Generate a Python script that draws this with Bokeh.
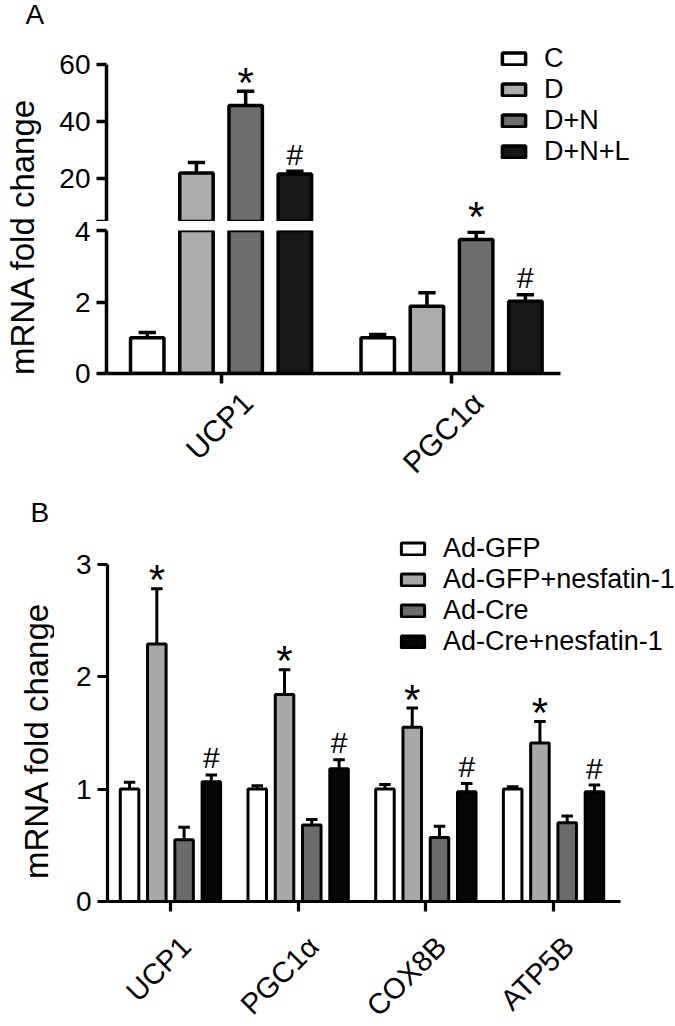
import math
from bokeh.plotting import figure
from bokeh.models import (ColumnDataSource, Range1d, FixedTicker, LinearAxis,
                          Legend, LegendItem, Label, LabelSet)
from bokeh.layouts import row, column
from bokeh.embed import file_html
from bokeh.resources import INLINE
from bokeh.core.properties import value

# ---------------- data: panel A ----------------
A_GENES = ["UCP1", "PGC1α"]
A_GROUPS = ["C", "D", "D+N", "D+N+L"]
A_C = [1.00, 1.00]
A_D = [22.0, 1.88]
A_DN = [45.6, 3.75]
A_DNL = [21.6, 2.02]
A_C_SEM = [0.15, 0.09]
A_D_SEM = [3.7, 0.38]
A_DN_SEM = [5.0, 0.20]
A_DNL_SEM = [1.0, 0.18]
A_SIG = ["", "", "*", "#"]
A_LOW_TICKS = [0, 2, 4]
A_HIGH_TICKS = [5, 20, 40, 60]
A_LOW_MAX = 4      # lower segment of the broken axis: 0..4
A_UP_MIN = 5       # upper segment of the broken axis: 5..60
A_UP_MAX = 60

# ---------------- data: panel B ----------------
B_GENES = ["UCP1", "PGC1α", "COX8B", "ATP5B"]
B_GROUPS = ["Ad-GFP", "Ad-GFP+nesfatin-1", "Ad-Cre", "Ad-Cre+nesfatin-1"]
B_GFP = [1.00, 1.00, 1.00, 1.00]
B_GFP_N = [2.29, 1.84, 1.55, 1.41]
B_CRE = [0.55, 0.68, 0.57, 0.70]
B_CRE_N = [1.065, 1.18, 0.975, 0.975]
B_GFP_SEM = [0.06, 0.03, 0.04, 0.02]
B_GFP_N_SEM = [0.49, 0.22, 0.17, 0.19]
B_CRE_SEM = [0.11, 0.05, 0.10, 0.06]
B_CRE_N_SEM = [0.06, 0.08, 0.075, 0.06]
B_SIG = ["", "*", "", "#"]
B_TICKS = [0, 1, 2, 3]
B_MAX = 3

# ---------------- style ----------------
FONT = "Liberation Sans"
A_FILLS = ["#ffffff", "#acacac", "#6e6e6e", "#171717"]
B_FILLS = ["#ffffff", "#a9a9a9", "#6b6b6b", "#060606"]
PITCH = 0.2135
BAR_W = 0.145
STAR_SIZE, STAR_OFF = "42px", -9
HASH_SIZE, HASH_OFF = "30px", -17
LABELSET_STAR_OFF = 1
TICK_FONT = "28px"
LAB_W = 54
NAN = float("nan")


def base_fig(**kw):
    p = figure(toolbar_location=None, output_backend="svg", **kw)
    p.grid.visible = False
    p.outline_line_color = None
    p.background_fill_color = "white"
    p.border_fill_color = "white"
    return p


def style_axis(ax, lw):
    ax.axis_line_width = lw
    ax.axis_line_color = "black"
    ax.major_tick_line_width = lw
    ax.major_tick_line_color = "black"
    ax.major_tick_out = 10
    ax.major_tick_in = 0
    ax.minor_tick_line_color = None
    ax.major_label_text_font = FONT
    ax.major_label_text_font_size = TICK_FONT
    ax.major_label_text_color = "black"
    ax.major_label_standoff = 6


def style_yaxis(p, ticks, lw, bounds, overrides=None):
    ax = p.yaxis[0]
    ax.ticker = FixedTicker(ticks=ticks)
    ax.bounds = bounds
    style_axis(ax, lw)
    if overrides:
        ax.major_label_overrides = overrides


def style_xaxes(p, genes, shift, standoff, lw, bounds, font, line_height=1.2):
    ax = p.xaxis[0]
    style_axis(ax, lw)
    ax.bounds = bounds
    ticks = [i + 1 for i in range(len(genes))]
    ax.ticker = FixedTicker(ticks=ticks)
    ax.major_label_overrides = {t: "" for t in ticks}
    ax.major_label_text_font_size = "0px"
    ax.major_label_standoff = 0
    pos = [t + shift for t in ticks]
    lab = LinearAxis(ticker=FixedTicker(ticks=pos),
                     major_label_overrides={q: g for q, g in zip(pos, genes)},
                     axis_line_color=None, major_tick_line_color=None,
                     minor_tick_line_color=None, major_tick_out=0, major_tick_in=0,
                     major_label_orientation=math.pi / 4,
                     major_label_standoff=standoff,
                     major_label_text_font=FONT,
                     major_label_text_font_size=font,
                     major_label_text_line_height=line_height,
                     major_label_text_color="black")
    p.add_layout(lab, "below")


def draw_groups(p, genes, series, sems, fills, lw, cap, bar_keep, err_keep):
    rends = []
    for k, (vals, errs, fc) in enumerate(zip(series, sems, fills)):
        xs = [i + 1 + (k - 1.5) * PITCH for i in range(len(genes))]
        ebars = [(x, v, v + e) for x, v, e in zip(xs, vals, errs) if err_keep(v, e)]
        esrc = ColumnDataSource(dict(
            x=[b[0] for b in ebars], top=[b[1] for b in ebars], etop=[b[2] for b in ebars],
            cx0=[b[0] - cap / 2 for b in ebars], cx1=[b[0] + cap / 2 for b in ebars]))
        p.segment(x0="x", y0="top", x1="x", y1="etop", source=esrc,
                  line_color="black", line_width=lw)
        p.segment(x0="cx0", y0="etop", x1="cx1", y1="etop", source=esrc,
                  line_color="black", line_width=lw)
        # bars that do not belong to this axis segment are masked (NaN)
        tops = [v if bar_keep(v, e) else NAN for v, e in zip(vals, errs)]
        bsrc = ColumnDataSource(dict(x=xs, top=tops))
        r = p.vbar(x="x", top="top", bottom=0, width=BAR_W, source=bsrc,
                   fill_color=fc, line_color="black", line_width=lw)
        rends.append(r)
    return rends


def mark_points(genes, series, sems, sigs, sym, keep):
    xs, ys = [], []
    for k, (vals, errs, s) in enumerate(zip(series, sems, sigs)):
        if s != sym:
            continue
        for i, (v, e) in enumerate(zip(vals, errs)):
            if keep(v, e):
                xs.append(i + 1 + (k - 1.5) * PITCH)
                ys.append(v + e)
    return xs, ys


def draw_marks(p, genes, series, sems, sigs, keep):
    for sym, size, off in (("*", STAR_SIZE, STAR_OFF), ("#", HASH_SIZE, HASH_OFF)):
        xs, ys = mark_points(genes, series, sems, sigs, sym, keep)
        if xs:
            p.text(x=xs, y=ys, text=[sym] * len(xs), text_font=value(FONT),
                   text_font_size=size, text_align="center",
                   text_baseline="alphabetic", y_offset=off, text_color="black")


def draw_marks_labels(p, genes, series, sems, sigs, keep, y_range_name):
    # marks whose anchor lies just below this frame but whose glyph reaches into it
    for sym, size in (("*", STAR_SIZE), ("#", HASH_SIZE)):
        xs, ys = mark_points(genes, series, sems, sigs, sym, keep)
        if xs:
            src = ColumnDataSource(dict(x=xs, y=ys, t=[sym] * len(xs)))
            p.add_layout(LabelSet(x="x", y="y", text="t", source=src,
                                  y_range_name=y_range_name,
                                  text_font=value(FONT), text_font_size=value(size),
                                  text_align="center", text_baseline="alphabetic",
                                  y_offset=LABELSET_STAR_OFF, text_color="black"))


def legend_for(p, groups, rends, loc, spacing):
    lg = Legend(items=[LegendItem(label=g, renderers=[r]) for g, r in zip(groups, rends)],
                location=loc, orientation="vertical", glyph_width=29, glyph_height=15,
                label_standoff=16, spacing=spacing, padding=0, margin=0,
                border_line_color=None, background_fill_alpha=0,
                label_text_font=FONT, label_text_font_size="27px",
                label_text_color="black", label_height=20)
    p.add_layout(lg)


def label_fig(h, letter, letter_xy, ylab_xy):
    f = base_fig(width=LAB_W, height=h, x_axis_location=None, y_axis_location=None,
                 min_border=0, x_range=Range1d(0, 1), y_range=Range1d(0, 1))
    f.add_layout(Label(x=letter_xy[0], y=letter_xy[1], x_units="screen", y_units="screen",
                       text=letter, text_font=FONT, text_font_size="28px",
                       text_align="left", text_baseline="alphabetic", text_color="black"))
    f.add_layout(Label(x=ylab_xy[0], y=ylab_xy[1], x_units="screen", y_units="screen",
                       text="mRNA fold change", text_font=FONT, text_font_size="33px",
                       angle=math.pi / 2, text_align="center", text_baseline="middle",
                       text_color="black"))
    return f


ALL = lambda v, e: True
UPPER = lambda v, e: v > A_UP_MIN
UPPER_ERR = lambda v, e: v + e > A_UP_MIN
LOWER_ERR = lambda v, e: v + e <= A_LOW_MAX
NEAR_BREAK = lambda v, e: A_LOW_MAX - 0.5 < v + e <= A_LOW_MAX

# ---------------- panel A (broken y axis: two stacked frames) ----------------
A_UP_H, A_GAP, A_LOW_H = 176, 9, 143
A_SERIES = [A_C, A_D, A_DN, A_DNL]
A_SEMS = [A_C_SEM, A_D_SEM, A_DN_SEM, A_DNL_SEM]
up_ppu = 157 / (A_UP_MAX - A_UP_MIN)
a_ppu_x = 230.5
x_rng_a = Range1d(0.503, 0.503 + 554 / a_ppu_x)

topA = base_fig(frame_width=554, frame_height=A_UP_H, x_range=x_rng_a,
                y_range=Range1d(A_UP_MIN, A_UP_MIN + A_UP_H / up_ppu),
                x_axis_location=None,
                min_border_left=52, min_border_right=15,
                min_border_top=45, min_border_bottom=0)
low_ppu = A_LOW_H / A_LOW_MAX
low_start = A_LOW_MAX + A_GAP / low_ppu
topA.extra_y_ranges = {"low": Range1d(low_start, low_start + A_UP_H / low_ppu)}
style_yaxis(topA, A_HIGH_TICKS, 3.5, (A_UP_MIN, A_UP_MAX), {5: ""})
rA = draw_groups(topA, A_GENES, A_SERIES, A_SEMS, A_FILLS, 3.5, 0.075, UPPER, UPPER_ERR)
draw_marks(topA, A_GENES, A_SERIES, A_SEMS, A_SIG, UPPER_ERR)
draw_marks_labels(topA, A_GENES, A_SERIES, A_SEMS, A_SIG, NEAR_BREAK, "low")
legend_for(topA, A_GROUPS, rA, (393, 54), -4)

botA = base_fig(frame_width=554, frame_height=A_LOW_H, x_range=x_rng_a,
                y_range=Range1d(0, A_LOW_MAX),
                min_border_left=52, min_border_right=15,
                min_border_top=A_GAP, min_border_bottom=123)
style_yaxis(botA, A_LOW_TICKS, 3.5, (0, A_LOW_MAX))
style_xaxes(botA, A_GENES, 0.115, 14, 3.5, (0.503 - 9 / a_ppu_x, 2.473), "30px")
draw_groups(botA, A_GENES, A_SERIES, A_SEMS, A_FILLS, 3.5, 0.075, ALL, LOWER_ERR)
draw_marks(botA, A_GENES, A_SERIES, A_SEMS, A_SIG, LOWER_ERR)

labA = label_fig(496, "A", (25, 482), (22, 260))

# ---------------- panel B ----------------
B_SERIES = [B_GFP, B_GFP_N, B_CRE, B_CRE_N]
B_SEMS = [B_GFP_SEM, B_GFP_N_SEM, B_CRE_SEM, B_CRE_N_SEM]
b_ppu = 112.5
b_ppu_x = 127.7
figB = base_fig(frame_width=568, frame_height=366,
                x_range=Range1d(0.507, 0.507 + 568 / b_ppu_x),
                y_range=Range1d(0, 366 / b_ppu),
                min_border_left=53, min_border_right=0,
                min_border_top=39, min_border_bottom=125)
style_yaxis(figB, B_TICKS, 3.2, (0, B_MAX))
style_xaxes(figB, B_GENES, 0.12, 30, 3.2, (0.507 - 9 / b_ppu_x, 4.525), "29px", 0.7)
rB = draw_groups(figB, B_GENES, B_SERIES, B_SEMS, B_FILLS, 3.0, 0.09, ALL, ALL)
draw_marks(figB, B_GENES, B_SERIES, B_SEMS, B_SIG, ALL)
legend_for(figB, B_GROUPS, rB, (291, 244), -3)

labB = label_fig(530, "B", (30, 514), (36, 286))

layout = column(row(labA, column(topA, botA)), row(labB, column(figB)))

with open("out.html", "w") as fh:
    fh.write(file_html(layout, INLINE))
